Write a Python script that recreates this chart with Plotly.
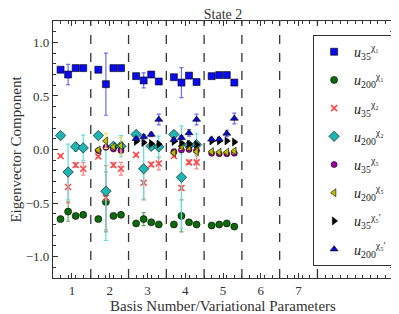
import plotly.graph_objects as go

# ---- data ----
groups = [1, 2, 3, 4, 5]
offsets = [-0.3, -0.1, 0.1, 0.3]
dividers = [1.5, 2.5, 3.5, 4.5, 5.5, 6.5, 7.5]
xticks = [1, 2, 3, 4, 5, 6, 7]
yticks = [-1.0, -0.5, 0.0, 0.5, 1.0]
yticklabels = ["\u22121.0", "\u22120.5", "0.0", "0.5", "1.0"]

u35_chi1 = [[0.745, 0.70, 0.76, 0.76], [0.745, 0.61, 0.76, 0.76], [0.685, 0.645, 0.70, 0.635],
            [0.675, 0.625, 0.69, 0.63], [0.685, 0.695, 0.695, 0.625]]
u35_chi1_err = [[0.01, 0.095, 0.01, 0.01], [0.01, 0.29, 0.01, 0.01], [0.01, 0.07, 0.01, 0.015],
                [0.01, 0.14, 0.01, 0.015], [0.01, 0.01, 0.01, 0.015]]

u200_chi1 = [[-0.65, -0.58, -0.62, -0.61], [-0.65, -0.49, -0.62, -0.61], [-0.69, -0.65, -0.68, -0.70],
             [-0.70, -0.62, -0.68, -0.70], [-0.71, -0.70, -0.69, -0.72]]
u200_chi1_err = [[0.01, 0.09, 0.01, 0.01], [0.01, 0.28, 0.01, 0.01], [0.01, 0.06, 0.01, 0.01],
                 [0.01, 0.15, 0.01, 0.01], [0.01, 0.01, 0.01, 0.01]]

u35_chi2 = [[-0.06, -0.35, -0.145, -0.18], [-0.065, -0.45, -0.145, -0.18], [-0.05, -0.31, -0.14, -0.13],
            [-0.06, -0.36, -0.12, -0.12], None]
u35_chi2_err = [[0.01, 0.15, 0.02, 0.06], [0.01, 0.30, 0.02, 0.06], [0.01, 0.16, 0.02, 0.06],
                [0.01, 0.02, 0.02, 0.06], None]

u200_chi2 = [[0.13, -0.21, 0.025, 0.015], [0.13, -0.39, 0.03, 0.03], [0.14, -0.18, 0.03, 0.025],
             [0.14, -0.26, 0.04, 0.045], None]
u200_chi2_err = [[0.01, 0.26, 0.04, 0.12], [0.01, 0.46, 0.02, 0.10], [0.01, 0.28, 0.02, 0.10],
                 [0.01, 0.48, 0.02, 0.10], None]

u35_chi5 = [None, [-0.01, 0.02, 0.005, -0.01], None, [-0.02, -0.005, 0.0, -0.01],
            [-0.035, -0.04, -0.04, -0.035]]
u35_chi5_err = [None, [0.01, 0.02, 0.01, 0.01], None, [0.01, 0.01, 0.01, 0.01],
                [0.01, 0.01, 0.01, 0.01]]

u200_chi5 = [None, [-0.005, 0.08, 0.025, 0.035], None, [-0.03, 0.03, 0.02, -0.02],
             [-0.02, -0.025, -0.025, -0.015]]
u200_chi5_err = [None, [0.01, 0.07, 0.02, 0.08], None, [0.01, 0.03, 0.02, 0.03],
                 [0.01, 0.01, 0.01, 0.02]]

u35_chi5p = [None, None, [0.075, 0.065, 0.055, 0.05], [0.075, 0.06, 0.05, 0.045],
             [0.08, 0.08, 0.08, 0.07]]
u35_chi5p_err = [None, None, [0.01, 0.01, 0.01, 0.01], [0.01, 0.01, 0.01, 0.01],
                 [0.01, 0.01, 0.01, 0.01]]

u200_chi5p = [None, None, [0.10, 0.12, 0.14, 0.28], [0.09, 0.11, 0.155, 0.28],
              [0.095, 0.095, 0.15, 0.29]]
u200_chi5p_err = [None, None, [0.01, 0.02, 0.02, 0.05], [0.01, 0.02, 0.03, 0.05],
                  [0.01, 0.01, 0.03, 0.05]]

series = [
    ("<i>u</i><sub>35</sub><sup>\u03c7\u2081</sup>", u35_chi1, u35_chi1_err, "square", "#0a0aee", "#6a6aff", 7),
    ("<i>u</i><sub>200</sub><sup>\u03c7\u2081</sup>", u200_chi1, u200_chi1_err, "circle", "#0b6a0b", "#5fb05f", 7),
    ("<i>u</i><sub>35</sub><sup>\u03c7\u2082</sup>", u35_chi2, u35_chi2_err, "x-thin", "#ff4444", "#ff8080", 6),
    ("<i>u</i><sub>200</sub><sup>\u03c7\u2082</sup>", u200_chi2, u200_chi2_err, "diamond", "#20b4b4", "#5fdede", 8),
    ("<i>u</i><sub>35</sub><sup>\u03c7\u2085</sup>", u35_chi5, u35_chi5_err, "circle", "#a000a0", "#e080e0", 6),
    ("<i>u</i><sub>200</sub><sup>\u03c7\u2085</sup>", u200_chi5, u200_chi5_err, "triangle-left", "#c0c000", "#e6e660", 7),
    ("<i>u</i><sub>35</sub><sup>\u03c7\u2085\u2032</sup>", u35_chi5p, u35_chi5p_err, "triangle-right", "#000000", "#808080", 7),
    ("<i>u</i><sub>200</sub><sup>\u03c7\u2085\u2032</sup>", u200_chi5p, u200_chi5p_err, "triangle-up", "#0a0acc", "#6a6aff", 7),
]

fig = go.Figure()
for i, (name, vals, errs, sym, col, ecol, size) in enumerate(series):
    xs, ys, es = [], [], []
    for g, gv, ge in zip(groups, vals, errs):
        if gv is None:
            continue
        for off, v, e in zip(offsets, gv, ge):
            xs.append(g + off)
            ys.append(v)
            es.append(e)
    marker = dict(symbol=sym, size=size, color=col,
                  line=dict(color=col if sym == "x-thin" else "#000000",
                            width=1.5 if sym == "x-thin" else 0.6))
    fig.add_trace(go.Scatter(
        x=xs, y=ys, mode="markers", name=name, marker=marker,
        legendgroup="g%d" % i,
        error_y=dict(type="data", array=es, visible=True, color=ecol, thickness=1.2, width=2),
    ))

shapes = []
for d in dividers:
    shapes.append(dict(type="line", xref="x", yref="paper", x0=d, x1=d, y0=0, y1=1,
                       line=dict(color="#333333", width=1.3, dash="dash"), layer="below"))

# page body has an 8px margin, so the figure is drawn 8px smaller and margins adjusted
font = "Liberation Serif, DejaVu Serif, serif"
fig.update_layout(
    width=391, height=306,
    margin=dict(l=45, r=6, t=13, b=36, autoexpand=False),
    paper_bgcolor="white", plot_bgcolor="white",
    font=dict(family=font, size=13, color="#333333"),
    title=dict(text="State 2", x=0.5, xref="paper", y=1.0, yanchor="top",
               pad=dict(t=1, b=0), font=dict(family=font, size=14, color="#333333")),
    shapes=shapes,
    showlegend=True,
    legend=dict(x=0.765, y=0.945, xanchor="left", yanchor="top",
                bgcolor="white", bordercolor="#333333", borderwidth=1,
                font=dict(family=font, size=14, color="#222222"),
                tracegroupgap=7, traceorder="grouped", itemwidth=30),
)
fig.update_xaxes(
    automargin=False,
    range=[0.5, 9.5], tickvals=xticks, ticks="inside", ticklen=5, tickcolor="#333333",
    showline=True, linecolor="#333333", linewidth=1.2, mirror="allticks",
    showgrid=False, zeroline=False,
    minor=dict(tick0=0.1, dtick=0.2, ticks="inside", ticklen=3, tickcolor="#333333"),
    title=dict(text="Basis Number/Variational Parameters", standoff=0,
               font=dict(family=font, size=15, color="#333333")),
    tickfont=dict(family=font, size=13, color="#333333"),
)
fig.update_yaxes(
    automargin=False,
    range=[-1.2, 1.2], tickvals=yticks, ticktext=yticklabels, ticks="inside", ticklen=5,
    tickcolor="#333333", showline=True, linecolor="#333333", linewidth=1.2, mirror="allticks",
    showgrid=False, zeroline=False,
    minor=dict(dtick=0.1, ticks="inside", ticklen=3, tickcolor="#333333"),
    title=dict(text="Eigenvector Component", standoff=10,
               font=dict(family=font, size=15, color="#333333")),
    tickfont=dict(family=font, size=13, color="#333333"),
)
fig.write_html("out.html")
